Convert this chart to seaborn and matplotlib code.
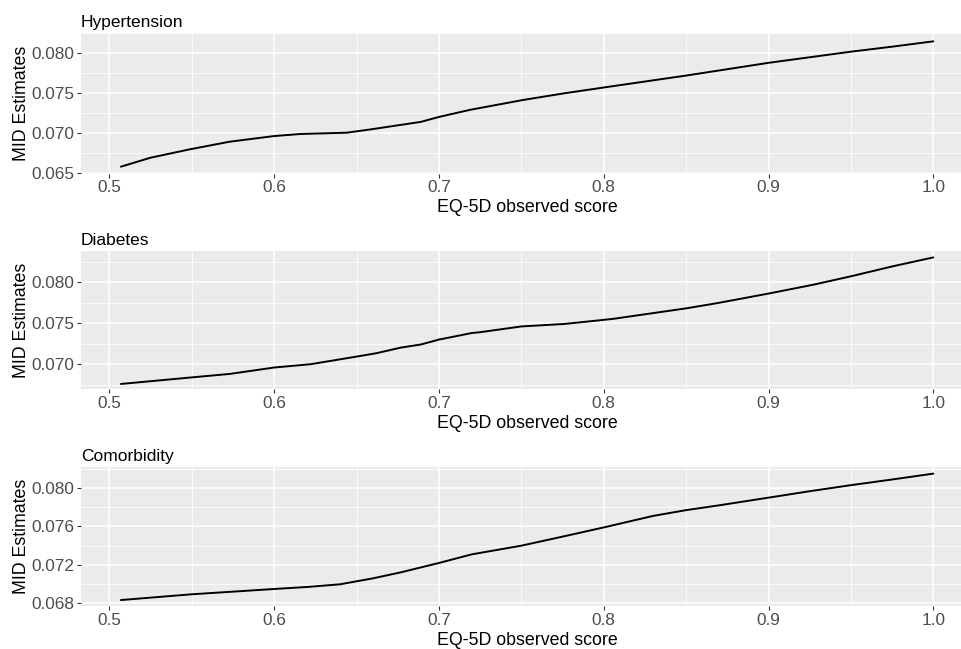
import matplotlib
matplotlib.use("Agg")
import matplotlib.pyplot as plt
import seaborn as sns
import pandas as pd
from matplotlib.ticker import MultipleLocator, FormatStrFormatter

# values
hyp_x = [0.507, 0.525, 0.549, 0.573, 0.60, 0.616, 0.644, 0.659, 0.689, 0.70,
         0.719, 0.751, 0.776, 0.80, 0.85, 0.875, 0.90, 0.95, 0.975, 1.0]
hyp_y = [0.06575, 0.06688, 0.06794, 0.06889, 0.0696, 0.06986, 0.07002, 0.07045, 0.07138, 0.0720,
         0.0729, 0.07413, 0.07497, 0.0757, 0.0772, 0.0780, 0.0788, 0.0802, 0.08083, 0.0815]

dia_x = [0.507, 0.55, 0.573, 0.60, 0.622, 0.650, 0.662, 0.677, 0.689, 0.70,
         0.72, 0.725, 0.75, 0.776, 0.80, 0.806, 0.85, 0.869, 0.90, 0.927,
         0.95, 0.975, 1.0]
dia_y = [0.0676, 0.0684, 0.06882, 0.0696, 0.0700, 0.07093, 0.07134, 0.07203, 0.0724, 0.0730,
         0.0738, 0.0739, 0.0746, 0.0749, 0.0754, 0.07553, 0.0768, 0.07744, 0.0786, 0.07967,
         0.0807, 0.0819, 0.0830]

com_x = [0.507, 0.55, 0.60, 0.62, 0.64, 0.66, 0.677, 0.70, 0.72, 0.75,
         0.776, 0.80, 0.83, 0.85, 0.87, 0.90, 0.925, 0.95, 0.975, 1.0]
com_y = [0.06834, 0.06894, 0.06949, 0.0697, 0.06998, 0.0706, 0.07123, 0.0722, 0.0731, 0.0740,
         0.07498, 0.0759, 0.0771, 0.0777, 0.0782, 0.0790, 0.07967, 0.0803, 0.08089, 0.0815]

titles = ["Hypertension", "Diabetes", "Comorbidity"]

sns.set_theme(style="darkgrid", rc={
    "axes.facecolor": "#EBEBEB",
    "grid.color": "white",
    "figure.facecolor": "white",
})
plt.rcParams["font.family"] = ["Liberation Sans", "DejaVu Sans"]

W, H = 961, 649
fig = plt.figure(figsize=(W / 100, H / 100), dpi=100)

# panel (top, bottom) in pixels, y limits and tick step
panels = [
    (33.3, 173.7, (0.06487, 0.08251), 0.005),
    (251.0, 389.3, (0.06695, 0.08378), 0.005),
    (467.3, 606.0, (0.06772, 0.08216), 0.004),
]
series = [(hyp_x, hyp_y), (dia_x, dia_y), (com_x, com_y)]

left_px, right_px = 80.7, 974.0
for (top, bot, ylim, step), (xs, ys), title in zip(panels, series, titles):
    ax = fig.add_axes([left_px / W, 1 - bot / H, (right_px - left_px) / W, (bot - top) / H])
    df = pd.DataFrame({"x": xs, "y": ys})
    sns.lineplot(data=df, x="x", y="y", ax=ax, color="black", linewidth=1.4)

    ax.set_xlim(0.4826, 1.0247)
    ax.set_ylim(*ylim)
    ax.xaxis.set_major_locator(MultipleLocator(0.1))
    ax.xaxis.set_minor_locator(MultipleLocator(0.05))
    ax.yaxis.set_major_locator(MultipleLocator(step))
    ax.yaxis.set_minor_locator(MultipleLocator(step / 2))
    ax.xaxis.set_major_formatter(FormatStrFormatter("%.1f"))
    ax.yaxis.set_major_formatter(FormatStrFormatter("%.3f"))

    ax.grid(which="major", color="white", linewidth=1.1)
    ax.grid(which="minor", color="white", linewidth=0.55)
    for s in ax.spines.values():
        s.set_visible(False)
    ax.tick_params(which="major", length=2.75, width=0.8, color="#333333",
                   labelcolor="#4D4D4D", labelsize=12.4, pad=2,
                   bottom=True, left=True)
    ax.tick_params(which="minor", length=0, bottom=False, left=False)

    ax.set_xlabel("EQ-5D observed score", fontsize=12.8, color="black", labelpad=3)
    ax.set_ylabel("MID Estimates", fontsize=12.8, color="black", labelpad=0.5)
    ax.set_title(title, loc="left", fontsize=12.5, color="black", pad=4.5)

fig.savefig("out.png", dpi=100)
